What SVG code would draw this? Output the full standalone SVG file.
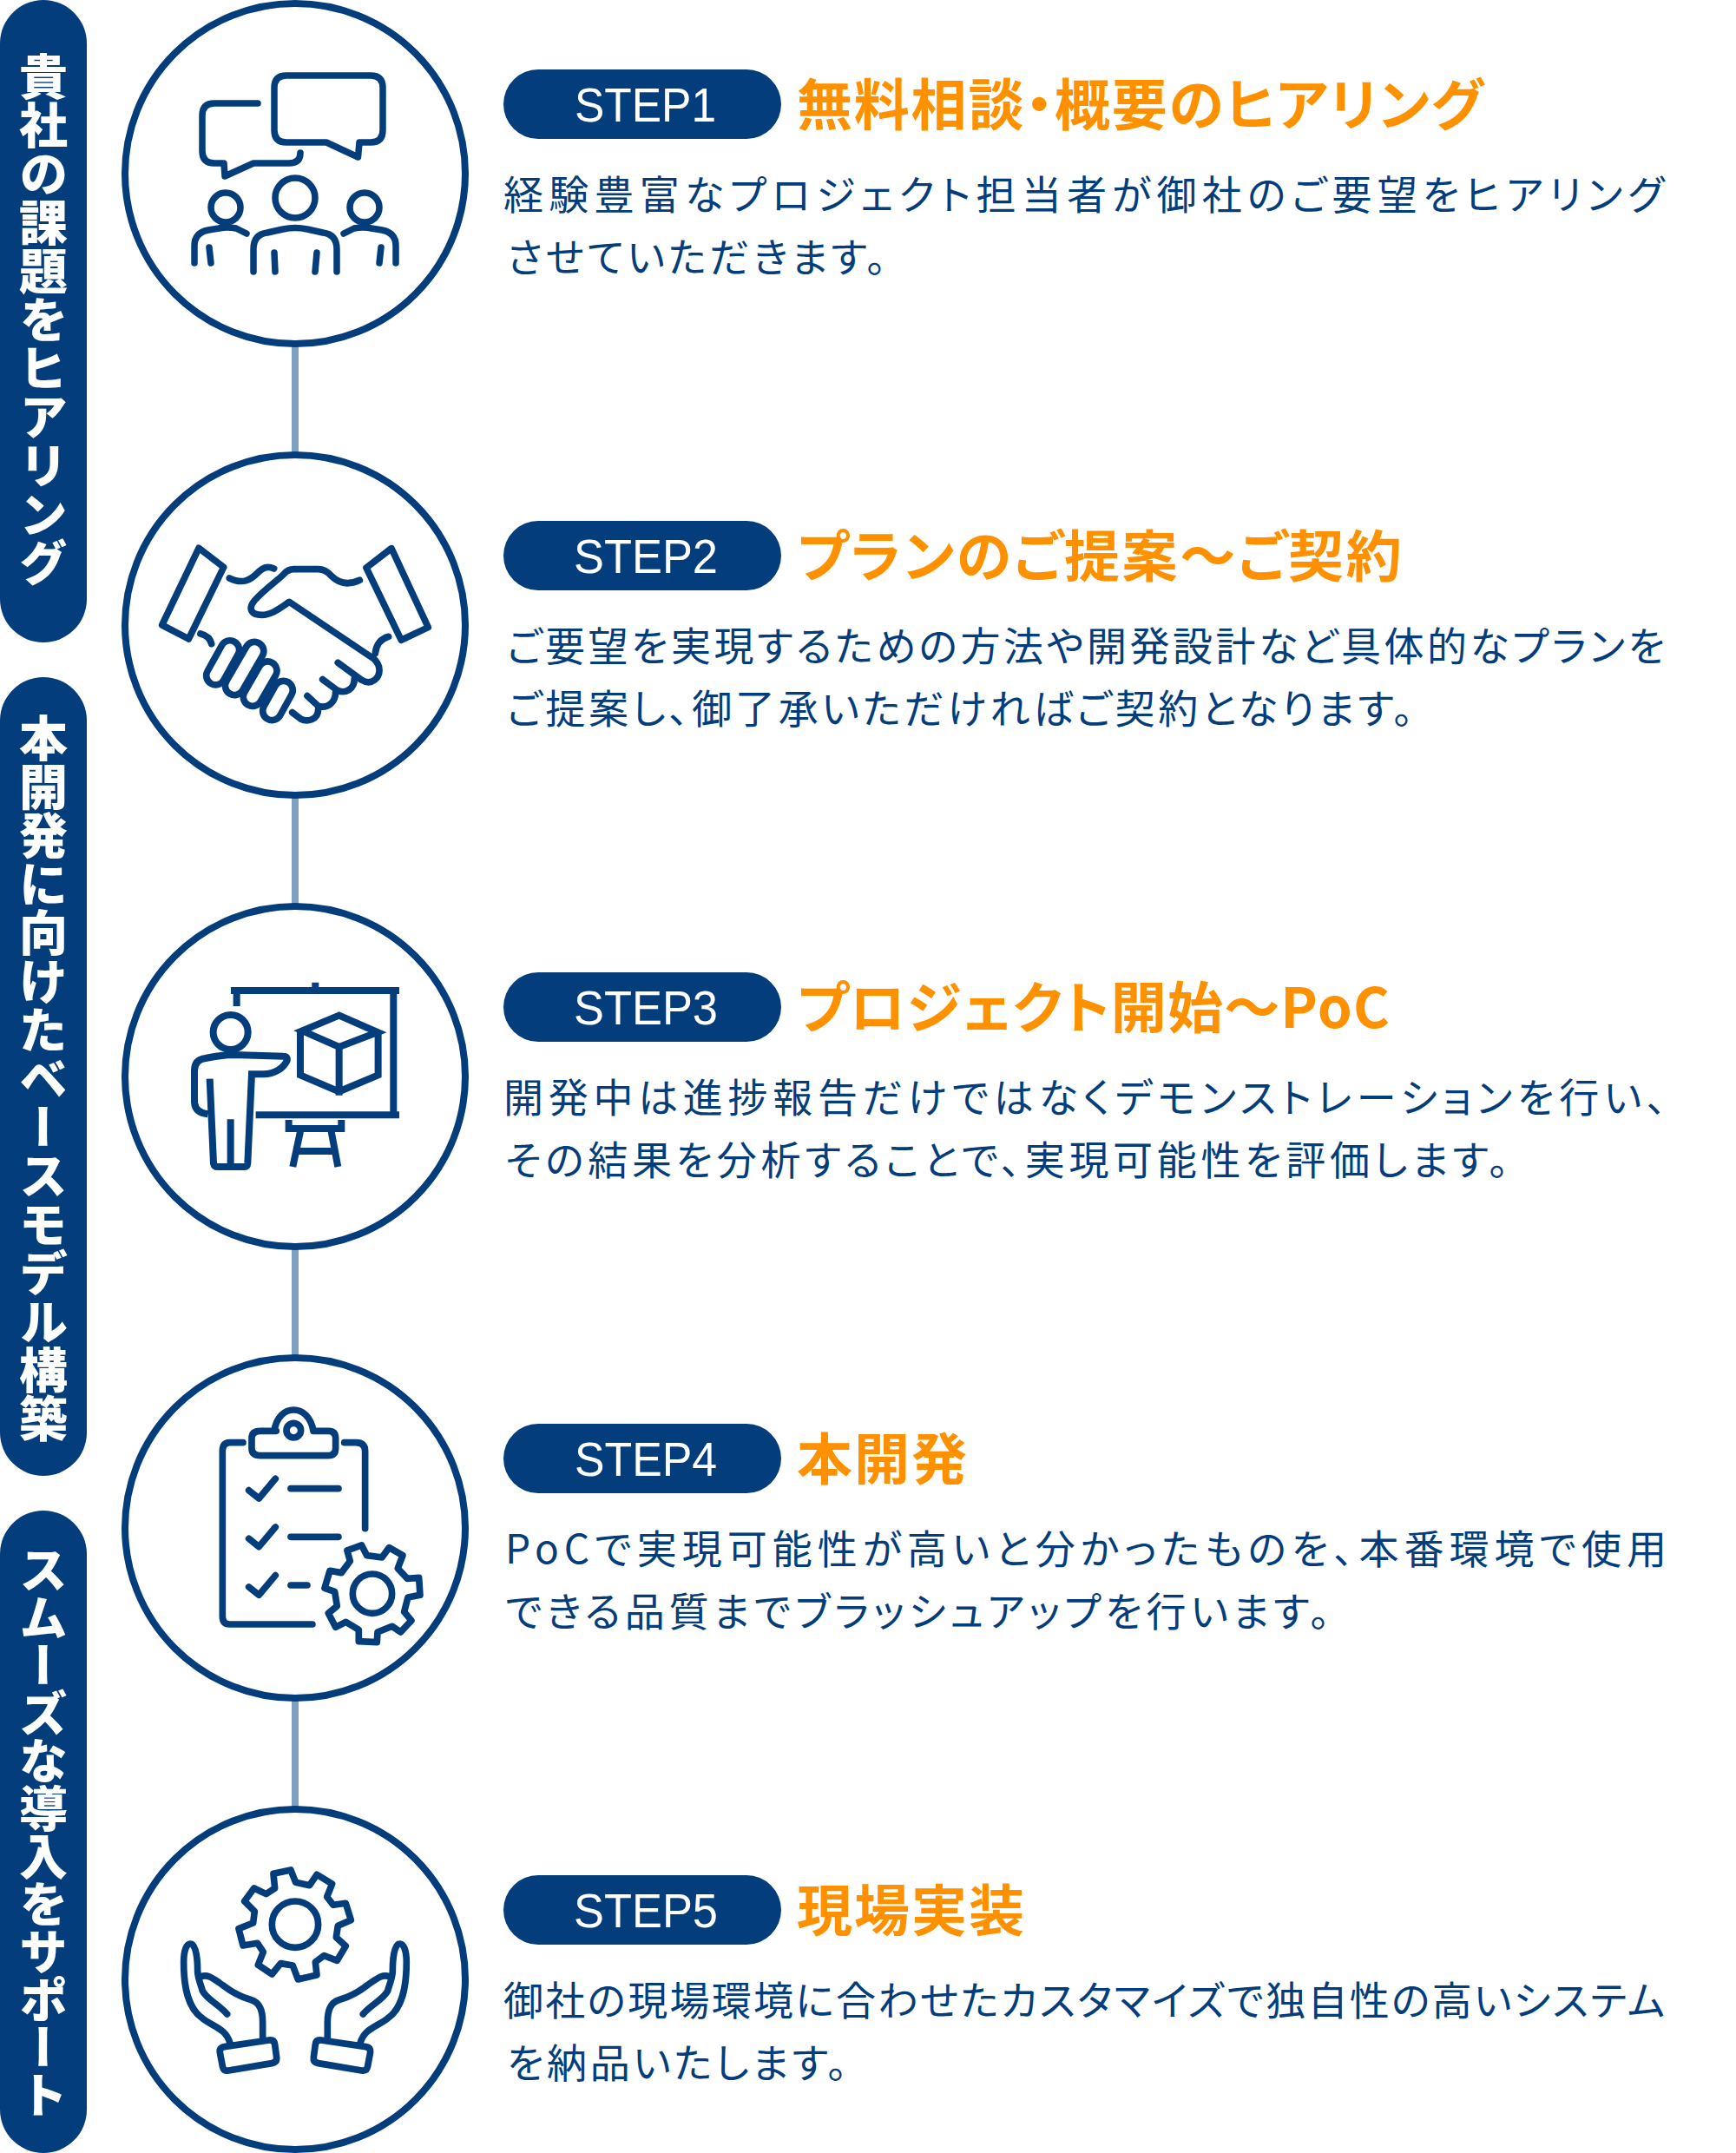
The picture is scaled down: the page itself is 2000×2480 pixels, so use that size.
<svg xmlns="http://www.w3.org/2000/svg" width="2000" height="2480" viewBox="0 0 2000 2480">
<style>
text{font-family:"Noto Sans CJK JP","Noto Sans",sans-serif}
.side{fill:#033d7b}
.sideT{fill:#fff;font-size:56px;font-weight:900;writing-mode:vertical-rl;text-anchor:middle}
.ring{fill:#fff;stroke:#033d7b;stroke-width:8}
.pill{fill:#033d7b}
.step{fill:#fff;font-family:"Liberation Sans",Arial,sans-serif;font-size:56px;text-anchor:middle}
.title{fill:#ff9100;font-size:64px;font-weight:700;font-feature-settings:"palt";letter-spacing:2px}
.body{fill:#033d7b;font-size:46px;font-weight:400;font-feature-settings:"palt"}
.ic{fill:none;stroke:#033d7b;stroke-linecap:round;stroke-linejoin:round}
.ic1{stroke-width:7.5}
.ic2,.ic4,.ic5{stroke-width:23}
.ic3{stroke-width:24;stroke-linecap:butt;stroke-linejoin:miter}
.ic2 rect{fill:#fff}
.conn{fill:none;stroke:#80a0c0;stroke-width:8}
</style>
<g id="phases">
<g id="phase-1"><rect class="side" x="0" y="0" width="100" height="740" rx="50"/><text class="sideT" x="50" y="368">貴社の課題をヒアリング</text></g>
<g id="phase-2"><rect class="side" x="0" y="780" width="100" height="920" rx="50"/><text class="sideT" x="50" y="1242">本開発に向けたベースモデル構築</text></g>
<g id="phase-3"><rect class="side" x="0" y="1740" width="100" height="740" rx="50"/><text class="sideT" x="50" y="2110" style="letter-spacing:-1px">スムーズな導入をサポート</text></g>
</g>
<g id="connectors">
<path class="conn" d="M340 396V524M340 916V1044M340 1436V1564M340 1956V2084"/>
</g>
<g id="step-1">
<circle class="ring" cx="340" cy="200" r="196"/>
<g class="ic ic1">
<path d="M330 87H427Q441 87 441 101V150Q441 164 427 164H414L412.500 181L376 164H330Q316 164 316 150V101Q316 87 330 87Z"/>
<path d="M297 119H247Q233 119 233 133V174Q233 188 247 188H258L259 203L292 188H333Q346 188 346 176"/>
<circle cx="340" cy="228" r="23"/><circle cx="260" cy="239" r="17"/><circle cx="420" cy="239" r="17"/>
<path d="M292 313V287Q292 270 308 268L326 264Q340 261 354 264L372 268Q388 270 388 287V313M316 291L317 313M365 291L363 313"/>
<path d="M224 303V283Q224 268 240 265L252 263Q262 261 272 263L284 269M241 285L243 303M456 303V283Q456 268 440 265L428 263Q418 261 408 263L396 269M439 285L437 303"/>
</g>
<rect class="pill" x="580" y="80" width="320" height="80" rx="40"/>
<text class="step" x="743.500" y="140" textLength="163" lengthAdjust="spacingAndGlyphs">STEP1</text>
<text class="title" x="918" y="144" style="letter-spacing:1.800px">無料相談・概要のヒアリング</text>
<text class="body" x="580" y="241" textLength="1337">経験豊富なプロジェクト担当者が御社のご要望をヒアリング</text>
<text class="body" x="584" y="313" textLength="437">させていただきます。</text>
</g>
<g id="step-2">
<circle class="ring" cx="340" cy="720" r="196"/>
<g class="ic ic2" transform="translate(100 500) scale(.3333)">
<path d="M387 394L473 460L352 708L260 660ZM1053 395L966 462L1087 712L1180 668Z"/>
<path d="M493 498C540 520 565 505 590 480C610 460 625 455 647 465"/>
<path d="M868 790L950 850Q975 865 995 850C1015 835 1020 800 990 775L700 580C670 600 640 625 605 625C570 625 555 605 580 575C610 540 660 505 680 485Q695 467 715 467H800Q825 467 845 490C870 515 900 525 943 505"/>
<path d="M925 845C925 880 895 900 865 885L815 848M860 890C860 925 835 950 800 940L762 905M800 950C800 990 760 995 740 985L710 962"/>
<path d="M393 690Q425 698 431 725M1043 700C1015 708 1000 730 997 758"/>
<rect x="-32" y="-83" width="64" height="166" rx="32" transform="translate(470 790) rotate(29)"/>
<rect x="-32" y="-84" width="64" height="168" rx="32" transform="translate(599 863) rotate(30)"/>
<rect x="-32" y="-73" width="64" height="146" rx="32" transform="translate(660 921) rotate(29)"/>
<rect x="-32" y="-101" width="64" height="202" rx="32" transform="translate(545 810) rotate(30)"/>
</g>
<rect class="pill" x="580" y="600" width="320" height="80" rx="40"/>
<text class="step" x="744" y="660" textLength="166" lengthAdjust="spacingAndGlyphs">STEP2</text>
<text class="title" x="918" y="664" style="letter-spacing:2.600px">プランのご提案〜ご契約</text>
<text class="body" x="584" y="761" textLength="1334">ご要望を実現するための方法や開発設計など具体的なプランを</text>
<text class="body" x="584" y="833" textLength="1044">ご提案し、御了承いただければご契約となります。</text>
</g>
<g id="step-3">
<circle class="ring" cx="340" cy="1240" r="196"/>
<g class="ic ic3" transform="translate(100 1020) scale(.3333)">
<path d="M498 363H1080M790 335V355M518 375V417M1060 363V793M584 793H1080"/>
<path d="M698 810V840H880V810M738 850L712 972M845 850L868 972M725 918H855"/>
<path d="M872 449L745 502L872 558L1005 507ZM738 505V655L872 712L1007 655V505M872 550V725"/>
<circle cx="497" cy="507" r="60"/>
<path d="M425 668L438 960Q440 972 452 972H545Q555 972 556 960L570 652H610C650 652 680 630 692 605Q695 590 680 590L510 585Q470 585 410 597Q372 602 372 640V745Q372 785 418 790M497 808V965"/>
</g>
<rect class="pill" x="580" y="1120" width="320" height="80" rx="40"/>
<text class="step" x="744" y="1180" textLength="166" lengthAdjust="spacingAndGlyphs">STEP3</text>
<text class="title" x="918" y="1184" style="letter-spacing:1.200px">プロジェクト開始〜PoC</text>
<text class="body" x="580" y="1281" textLength="1340">開発中は進捗報告だけではなくデモンストレーションを行い、</text>
<text class="body" x="582" y="1353" textLength="1156">その結果を分析することで、実現可能性を評価します。</text>
</g>
<g id="step-4">
<circle class="ring" cx="340" cy="1760" r="196"/>
<g class="ic ic4" transform="translate(100 1540) scale(.3333)">
<path d="M540 365H495Q469 365 469 395V965Q469 993 495 993H780M890 365H930Q962 365 962 395V662"/>
<path d="M655 325H600Q570 325 570 350V385Q570 410 600 410H835Q860 410 860 385V350Q860 325 835 325H783C775 275 745 252 715 252C685 252 655 275 648 325"/>
<circle cx="715" cy="323" r="25"/>
<path d="M560 530L595 558L652 490M560 697L595 725L652 657M560 864L595 892L652 824M705 524H870M705 691H870M705 858H762"/>
<polygon points="900,738 950,720 968,755 1020,762 1045,728 1092,755 1075,800 1108,835 1148,832 1152,892 1110,900 1097,950 1122,980 1085,1020 1055,1000 1005,1020 1003,1055 940,1052 940,1012 895,985 860,1003 835,955 865,930 857,880 822,868 840,808 880,815 910,775"/>
<circle cx="987" cy="887" r="68"/>
</g>
<rect class="pill" x="580" y="1640" width="320" height="80" rx="40"/>
<text class="step" x="744" y="1700" textLength="164" lengthAdjust="spacingAndGlyphs">STEP4</text>
<text class="title" x="918" y="1704">本開発</text>
<text class="body" x="582" y="1801" textLength="1338">PoCで実現可能性が高いと分かったものを、本番環境で使用</text>
<text class="body" x="582" y="1873" textLength="950">できる品質までブラッシュアップを行います。</text>
</g>
<g id="step-5">
<circle class="ring" cx="340" cy="2280" r="196"/>
<g class="ic ic5" transform="translate(100 2060) scale(.3333)">
<polygon points="645,295 705,282 722,325 770,335 795,298 848,330 830,375 852,403 895,397 913,455 868,475 862,515 895,545 865,595 820,578 790,600 795,645 730,660 712,612 670,605 640,642 592,610 610,565 590,535 540,543 525,485 575,465 580,425 545,390 578,345 620,365 650,345"/>
<circle cx="720" cy="470" r="80"/>
<g id="hand-left">
<path d="M495 880C480 830 440 825 400 795C350 760 335 690 335 600C335 560 345 537 358 537C378 537 383 590 383 635C385 660 395 680 400 700C415 730 455 745 485 780"/>
<path d="M395 650C420 640 440 660 470 680C500 703 530 720 565 730C600 740 608 770 608 810V870"/>
<path d="M475 893L630 870Q648 868 650 885L656 930Q658 947 640 950L490 975Q472 978 469 960L460 912Q458 896 475 893Z"/>
</g>
<g transform="translate(1440 0) scale(-1 1)">
<path d="M495 880C480 830 440 825 400 795C350 760 335 690 335 600C335 560 345 537 358 537C378 537 383 590 383 635C385 660 395 680 400 700C415 730 455 745 485 780"/>
<path d="M395 650C420 640 440 660 470 680C500 703 530 720 565 730C600 740 608 770 608 810V870"/>
<path d="M475 893L630 870Q648 868 650 885L656 930Q658 947 640 950L490 975Q472 978 469 960L460 912Q458 896 475 893Z"/>
</g>
</g>
<rect class="pill" x="580" y="2160" width="320" height="80" rx="40"/>
<text class="step" x="744" y="2220" textLength="166" lengthAdjust="spacingAndGlyphs">STEP5</text>
<text class="title" x="918" y="2224">現場実装</text>
<text class="body" x="580" y="2321" textLength="1338">御社の現場環境に合わせたカスタマイズで独自性の高いシステム</text>
<text class="body" x="584" y="2393" textLength="392">を納品いたします。</text>
</g>
</svg>
